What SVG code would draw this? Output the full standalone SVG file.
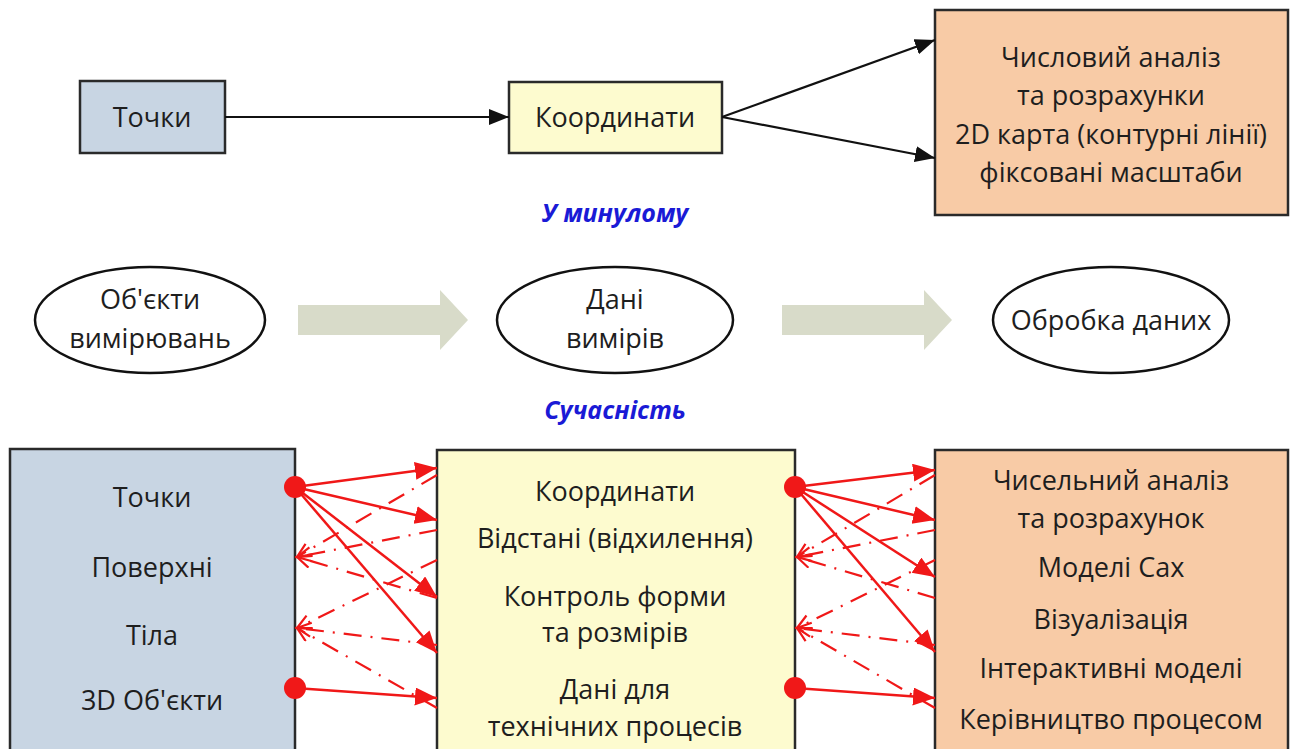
<svg xmlns="http://www.w3.org/2000/svg" width="1298" height="749" viewBox="0 0 1298 749">
<style>
  .t{font-family:"Open Sans","Noto Sans",sans-serif;font-size:27px;fill:#1e1e1e;text-anchor:middle}
  .lbl{font-family:"Open Sans","Noto Sans",sans-serif;font-size:25px;font-weight:bold;font-style:italic;fill:#1a1ad6;text-anchor:middle}
  .box{stroke:#2a2a2a;stroke-width:2.5}
  .blue{fill:#c8d5e3}
  .yel{fill:#fdfbcf}
  .ora{fill:#f8cba6}
  .ell{fill:#fff;stroke:#111;stroke-width:2.5}
  .blk{fill:#d8dbc9}
  .bl{stroke:#111;stroke-width:2.2;fill:none}
  .rs{stroke:#f01818;stroke-width:2.5;fill:none}
  .rd{stroke:#f01818;stroke-width:2.2;fill:none;stroke-dasharray:18 9 2 9}
  .dot{fill:#f01818}
</style>
<defs>
  <marker id="ab" markerUnits="userSpaceOnUse" markerWidth="22" markerHeight="18" refX="20" refY="8" orient="auto">
    <path d="M0,0 L20,8 L0,16 Z" fill="#111"/>
  </marker>
  <marker id="ar" markerUnits="userSpaceOnUse" markerWidth="24" markerHeight="20" refX="22" refY="9" orient="auto">
    <path d="M0,0 L22,9 L0,18 Z" fill="#f01818"/>
  </marker>
  <marker id="ao" markerUnits="userSpaceOnUse" markerWidth="20" markerHeight="20" refX="16" refY="8" orient="auto">
    <path d="M2,1 L16,8 L2,15" fill="none" stroke="#f01818" stroke-width="2.2"/>
  </marker>
</defs>
<rect width="1298" height="749" fill="#fff"/>

<!-- Top row (past) -->
<g id="top-tochky">
  <rect class="box blue" x="80" y="81" width="145" height="72"/>
  <text class="t" x="152" y="127">Точки</text>
</g>
<g id="top-koord">
  <rect class="box yel" x="509" y="82" width="213" height="71"/>
  <text class="t" x="615" y="127">Координати</text>
</g>
<g id="top-analysis">
  <rect class="box ora" x="935" y="10" width="353" height="205"/>
  <text class="t" x="1111" y="67">Числовий аналіз</text>
  <text class="t" x="1111" y="105">та розрахунки</text>
  <text class="t" x="1111" y="144">2D карта (контурні лінії)</text>
  <text class="t" x="1111" y="182">фіксовані масштаби</text>
</g>
<text class="lbl" x="615" y="222">У минулому</text>

<!-- Middle row -->
<g id="ell-objects">
  <ellipse class="ell" cx="150" cy="320" rx="115" ry="53"/>
  <text class="t" x="150" y="309">Об'єкти</text>
  <text class="t" x="150" y="348">вимірювань</text>
</g>
<g id="ell-data">
  <ellipse class="ell" cx="615" cy="320" rx="118" ry="53"/>
  <text class="t" x="615" y="309">Дані</text>
  <text class="t" x="615" y="348">вимірів</text>
</g>
<g id="ell-processing">
  <ellipse class="ell" cx="1111" cy="320" rx="118" ry="53"/>
  <text class="t" x="1111" y="330">Обробка даних</text>
</g>
<g id="block-arrows">
  <path class="blk" d="M298,305 L440,305 L440,290 L468,320 L440,350 L440,335 L298,335 Z"/>
  <path class="blk" d="M782,305 L924,305 L924,290 L952,320 L924,350 L924,335 L782,335 Z"/>
</g>
<text class="lbl" x="615" y="419">Сучасність</text>

<!-- Bottom row (present) -->
<g id="bot-left">
  <rect class="box blue" x="10" y="449" width="285" height="310"/>
  <text class="t" x="152" y="507">Точки</text>
  <text class="t" x="152" y="577">Поверхні</text>
  <text class="t" x="152" y="645">Тіла</text>
  <text class="t" x="152" y="710">3D Об'єкти</text>
</g>
<g id="bot-mid">
  <rect class="box yel" x="437" y="450" width="358" height="310"/>
  <text class="t" x="615" y="501">Координати</text>
  <text class="t" x="615" y="548">Відстані (відхилення)</text>
  <text class="t" x="615" y="606">Контроль форми</text>
  <text class="t" x="615" y="642">та розмірів</text>
  <text class="t" x="615" y="699">Дані для</text>
  <text class="t" x="615" y="736">технічних процесів</text>
</g>
<g id="bot-right">
  <rect class="box ora" x="935" y="450" width="353" height="310"/>
  <text class="t" x="1111" y="490">Чисельний аналіз</text>
  <text class="t" x="1111" y="528">та розрахунок</text>
  <text class="t" x="1111" y="577">Моделі Cax</text>
  <text class="t" x="1111" y="629">Візуалізація</text>
  <text class="t" x="1111" y="678">Інтерактивні моделі</text>
  <text class="t" x="1111" y="729">Керівництво процесом</text>
</g>

<!-- Connectors -->
<g id="connectors">
  <line class="bl" x1="225" y1="117" x2="509" y2="117" marker-end="url(#ab)"/>
  <line class="bl" x1="722" y1="117" x2="935" y2="40" marker-end="url(#ab)"/>
  <line class="bl" x1="722" y1="117" x2="935" y2="158" marker-end="url(#ab)"/>

  <!-- left to middle -->
  <line class="rd" x1="437" y1="475" x2="297" y2="557" marker-end="url(#ao)"/>
  <line class="rd" x1="437" y1="530" x2="297" y2="557" marker-end="url(#ao)"/>
  <line class="rd" x1="437" y1="598" x2="297" y2="557" marker-end="url(#ao)"/>
  <line class="rd" x1="437" y1="560" x2="297" y2="628" marker-end="url(#ao)"/>
  <line class="rd" x1="437" y1="645" x2="297" y2="628" marker-end="url(#ao)"/>
  <line class="rd" x1="437" y1="708" x2="297" y2="628" marker-end="url(#ao)"/>
  <line class="rs" x1="295" y1="487" x2="437" y2="468" marker-end="url(#ar)"/>
  <line class="rs" x1="295" y1="487" x2="437" y2="520" marker-end="url(#ar)"/>
  <line class="rs" x1="295" y1="487" x2="437" y2="597" marker-end="url(#ar)"/>
  <line class="rs" x1="295" y1="487" x2="437" y2="653" marker-end="url(#ar)"/>
  <line class="rs" x1="295" y1="688" x2="437" y2="698" marker-end="url(#ar)"/>
  <circle class="dot" cx="295" cy="487" r="11"/>
  <circle class="dot" cx="295" cy="688" r="11"/>

  <!-- middle to right -->
  <line class="rd" x1="935" y1="475" x2="797" y2="557" marker-end="url(#ao)"/>
  <line class="rd" x1="935" y1="530" x2="797" y2="557" marker-end="url(#ao)"/>
  <line class="rd" x1="935" y1="598" x2="797" y2="557" marker-end="url(#ao)"/>
  <line class="rd" x1="935" y1="560" x2="797" y2="628" marker-end="url(#ao)"/>
  <line class="rd" x1="935" y1="645" x2="797" y2="628" marker-end="url(#ao)"/>
  <line class="rd" x1="935" y1="708" x2="797" y2="628" marker-end="url(#ao)"/>
  <line class="rs" x1="795" y1="487" x2="935" y2="470" marker-end="url(#ar)"/>
  <line class="rs" x1="795" y1="487" x2="935" y2="520" marker-end="url(#ar)"/>
  <line class="rs" x1="795" y1="487" x2="935" y2="577" marker-end="url(#ar)"/>
  <line class="rs" x1="795" y1="487" x2="935" y2="652" marker-end="url(#ar)"/>
  <line class="rs" x1="795" y1="688" x2="935" y2="698" marker-end="url(#ar)"/>
  <circle class="dot" cx="795" cy="487" r="11"/>
  <circle class="dot" cx="795" cy="688" r="11"/>
</g>
</svg>
